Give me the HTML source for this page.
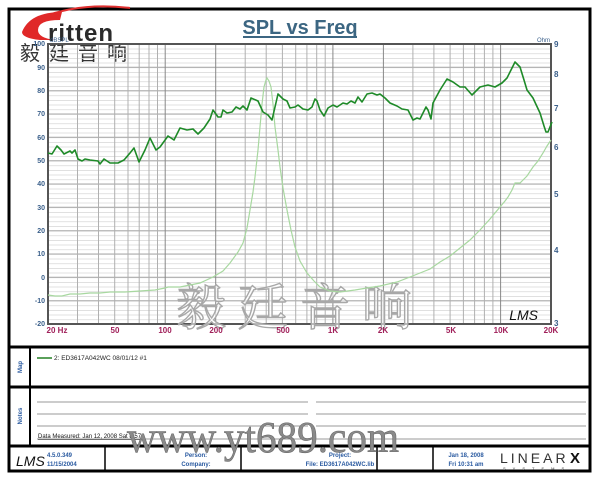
<!DOCTYPE html>
<html><head><meta charset="utf-8"><style>
html,body{margin:0;padding:0;background:#fff;}
svg{display:block;font-family:"Liberation Sans",sans-serif;}
</style></head><body>
<svg width="600" height="480" viewBox="0 0 600 480" xmlns="http://www.w3.org/2000/svg">
<defs>
<pattern id="hm" x="48" y="44" width="10" height="4.6667" patternUnits="userSpaceOnUse">
<line x1="0" y1="0.3" x2="10" y2="0.3" stroke="#d4d4d4" stroke-width="0.8"/>
</pattern>
</defs>
<rect x="0" y="0" width="600" height="480" fill="#fff"/>
<rect x="9" y="9" width="581" height="462" fill="none" stroke="#000" stroke-width="3"/>
<line x1="9" y1="347" x2="590" y2="347" stroke="#000" stroke-width="3"/>
<line x1="9" y1="387" x2="590" y2="387" stroke="#000" stroke-width="3"/>
<line x1="9" y1="446" x2="590" y2="446" stroke="#000" stroke-width="3"/>
<line x1="30" y1="347" x2="30" y2="446" stroke="#000" stroke-width="2"/>
<line x1="105" y1="446" x2="105" y2="471" stroke="#000" stroke-width="1.5"/>
<line x1="241" y1="446" x2="241" y2="471" stroke="#000" stroke-width="1.5"/>
<line x1="377" y1="446" x2="377" y2="471" stroke="#000" stroke-width="1.5"/>
<line x1="433" y1="446" x2="433" y2="471" stroke="#000" stroke-width="1.5"/>

<path d="M40 18 Q80 2 130 8" fill="none" stroke="#e03030" stroke-width="2"/>
<path d="M22 32 Q30 12 62 12 L60 20 Q38 20 38 30 Q38 38 55 40 L40 40 Q22 38 22 32Z" fill="#e02828"/>
<text x="48" y="41" font-size="24" font-weight="bold" fill="#2a2a2a" letter-spacing="1">ritten</text>
<text x="20" y="60" font-size="20" fill="#333" font-family="'Noto Sans CJK SC',sans-serif" letter-spacing="9">毅廷音响</text>

<text x="300" y="34" font-size="20" font-weight="bold" fill="#3c6682" text-anchor="middle">SPL vs Freq</text>
<line x1="243" y1="37" x2="357" y2="37" stroke="#3c6682" stroke-width="2"/>

<rect x="48" y="44" width="503" height="280" fill="url(#hm)"/>
<g stroke="#a8a8a8" stroke-width="1">
<line x1="48" y1="67.3" x2="551" y2="67.3"/><line x1="48" y1="90.7" x2="551" y2="90.7"/><line x1="48" y1="114" x2="551" y2="114"/><line x1="48" y1="137.3" x2="551" y2="137.3"/><line x1="48" y1="160.7" x2="551" y2="160.7"/><line x1="48" y1="184" x2="551" y2="184"/><line x1="48" y1="207.3" x2="551" y2="207.3"/><line x1="48" y1="230.7" x2="551" y2="230.7"/><line x1="48" y1="254" x2="551" y2="254"/><line x1="48" y1="277.3" x2="551" y2="277.3"/><line x1="48" y1="300.7" x2="551" y2="300.7"/>
</g>
<g stroke="#b0b0b0" stroke-width="1">
<line x1="77.5" y1="44" x2="77.5" y2="324"/><line x1="98.5" y1="44" x2="98.5" y2="324"/><line x1="114.7" y1="44" x2="114.7" y2="324"/><line x1="128" y1="44" x2="128" y2="324"/><line x1="139.2" y1="44" x2="139.2" y2="324"/><line x1="149" y1="44" x2="149" y2="324"/><line x1="157.5" y1="44" x2="157.5" y2="324"/>
<line x1="245.2" y1="44" x2="245.2" y2="324"/><line x1="266.2" y1="44" x2="266.2" y2="324"/><line x1="282.4" y1="44" x2="282.4" y2="324"/><line x1="295.7" y1="44" x2="295.7" y2="324"/><line x1="306.9" y1="44" x2="306.9" y2="324"/><line x1="316.7" y1="44" x2="316.7" y2="324"/><line x1="325.2" y1="44" x2="325.2" y2="324"/>
<line x1="412.9" y1="44" x2="412.9" y2="324"/><line x1="433.9" y1="44" x2="433.9" y2="324"/><line x1="450.1" y1="44" x2="450.1" y2="324"/><line x1="463.4" y1="44" x2="463.4" y2="324"/><line x1="474.6" y1="44" x2="474.6" y2="324"/><line x1="484.4" y1="44" x2="484.4" y2="324"/><line x1="492.9" y1="44" x2="492.9" y2="324"/>
</g>
<g stroke="#888" stroke-width="1">
<line x1="165.2" y1="44" x2="165.2" y2="324"/><line x1="215.7" y1="44" x2="215.7" y2="324"/><line x1="332.9" y1="44" x2="332.9" y2="324"/><line x1="383.4" y1="44" x2="383.4" y2="324"/><line x1="500.6" y1="44" x2="500.6" y2="324"/>
</g>
<rect x="48" y="44" width="503" height="280" fill="none" stroke="#555" stroke-width="2"/>

<text x="300" y="325" font-size="50" fill="#fff" fill-opacity="0.6" stroke="#a8a8a8" stroke-width="1.4" text-anchor="middle" letter-spacing="12" font-family="'Noto Serif CJK SC','Noto Sans CJK SC',serif">毅廷音响</text>
<text x="538" y="320" font-size="14" font-style="italic" fill="#111" text-anchor="end">LMS</text>

<polyline fill="none" stroke="#a8d8a0" stroke-width="1.2" points="48,295 55,296 62,296 70,294 80,294 90,293 100,293 110,292 125,292 140,291 155,290 165,288 168,287 180,287 200,283 213,277 223,271 230,263 238,252 243,243 247,228 250,210 253,192 255,177 258,150 260,127 262,104 264,87 266,80 267,78 269,81 271,87 273,104 275,127 278,150 280,167 283,188 287,210 291,230 295,247 300,261 307,273 314,281 320,287 330,291 340,292 355,290 367,288 380,286 397,282 410,277 420,273 430,269 440,262 450,256 460,248 470,240 480,230 490,219 500,207 505,201 508,197 512,190 515,183 520,183 527,176 533,167 538,161 543,153 547,146 551,140"/>

<polyline fill="none" stroke="#1e8a28" stroke-width="1.6" stroke-linejoin="round" points="48,153 52,154 57,146 61,150 64,154 70,151 72,153 75,150 78,159 82,161 85,159 90,160 98,161 100,164 104,159 110,163 118,163 124,160 130,153 134,148 139,162 145,150 150,138 156,150 160,147 168,136 174,140 180,128 187,130 193,129 198,134 204,128 210,119 213,110 218,117 221,117 223,110 227,113 232,112 236,107 240,109 243,106 247,110 251,98 258,101 263,112 268,115 272,120 278,94 283,99 287,101 290,108 295,107 298,105 303,109 308,110 312,107 315,99 317,101 320,110 324,116 328,108 333,105 337,107 343,103 347,104 351,101 355,103 358,97 362,102 367,94 372,93 377,95 380,94 385,98 390,103 397,106 402,109 408,110 413,120 417,118 420,119 426,107 428,110 431,119 433,103 440,90 447,79 453,82 460,87 465,87 472,95 480,87 488,85 495,87 502,83 507,78 511,70 515,62 520,67 524,80 527,90 533,98 540,113 544,126 546,132 548,132 552,122"/>

<g font-size="7" font-weight="bold" fill="#3a5f8a" text-anchor="end">
<text x="45" y="46">100</text><text x="45" y="70">90</text><text x="45" y="93">80</text><text x="45" y="116">70</text><text x="45" y="140">60</text><text x="45" y="163">50</text><text x="45" y="186">40</text><text x="45" y="210">30</text><text x="45" y="233">20</text><text x="45" y="256">10</text><text x="45" y="280">0</text><text x="45" y="303">-10</text><text x="45" y="326">-20</text>
</g>
<text x="50" y="42" font-size="6" fill="#3a5f8a">dBSPL</text>
<g font-size="8" font-weight="bold" fill="#3a5f8a">
<text x="554" y="47">9</text><text x="554" y="77">8</text><text x="554" y="111">7</text><text x="554" y="150">6</text><text x="554" y="197">5</text><text x="554" y="253">4</text><text x="554" y="326">3</text>
</g>
<text x="537" y="42" font-size="6" fill="#3a5f8a">Ohm</text>
<g font-size="8" font-weight="bold" fill="#a0205a" text-anchor="middle">
<text x="57" y="333">20  Hz</text><text x="115" y="333">50</text><text x="165" y="333">100</text><text x="216" y="333">200</text><text x="283" y="333">500</text><text x="333" y="333">1K</text><text x="383" y="333">2K</text><text x="451" y="333">5K</text><text x="501" y="333">10K</text><text x="551" y="333">20K</text>
</g>

<text x="22" y="367" font-size="6" font-weight="bold" fill="#2a5aa0" text-anchor="middle" transform="rotate(-90 22 367)">Map</text>
<line x1="37" y1="358" x2="52" y2="358" stroke="#5aa05a" stroke-width="2"/>
<text x="54" y="360" font-size="6.5" fill="#222">2: ED3617A042WC  08/01/12  #1</text>
<text x="22" y="416" font-size="6" font-weight="bold" fill="#2a5aa0" text-anchor="middle" transform="rotate(-90 22 416)">Notes</text>
<g stroke="#999" stroke-width="1">
<line x1="37" y1="402" x2="308" y2="402"/><line x1="316" y1="402" x2="586" y2="402"/>
<line x1="37" y1="414" x2="308" y2="414"/><line x1="316" y1="414" x2="586" y2="414"/>
<line x1="37" y1="426" x2="308" y2="426"/><line x1="316" y1="426" x2="586" y2="426"/>
<line x1="37" y1="439" x2="586" y2="439"/>
</g>
<text x="38" y="438" font-size="6" fill="#111" text-decoration="underline">Data Measured: Jan 12, 2008  Sat  8:57</text>
<text x="127" y="452" font-size="44" fill="#8a8a8a" stroke="#6a6a6a" stroke-width="0.6" textLength="272" lengthAdjust="spacingAndGlyphs" font-family="'Liberation Serif',serif">www.yt689.com</text>

<text x="16" y="466" font-size="14" font-style="italic" fill="#111">LMS</text>
<text x="47" y="457" font-size="6" font-weight="bold" fill="#2a5aa0">4.5.0.349</text>
<text x="47" y="466" font-size="6" font-weight="bold" fill="#2a5aa0">11/15/2004</text>
<text x="196" y="457" font-size="6" font-weight="bold" fill="#2a5aa0" text-anchor="middle">Person:</text>
<text x="196" y="466" font-size="6" font-weight="bold" fill="#2a5aa0" text-anchor="middle">Company:</text>
<text x="340" y="457" font-size="6" font-weight="bold" fill="#2a5aa0" text-anchor="middle">Project:</text>
<text x="340" y="466" font-size="6" font-weight="bold" fill="#2a5aa0" text-anchor="middle">File: ED3617A042WC.lib</text>
<text x="466" y="457" font-size="6" font-weight="bold" fill="#2a5aa0" text-anchor="middle">Jan 18, 2008</text>
<text x="466" y="466" font-size="6" font-weight="bold" fill="#2a5aa0" text-anchor="middle">Fri 10:31 am</text>
<text x="500" y="463" font-size="14" fill="#333" letter-spacing="3">LINEAR</text>
<text x="570" y="463" font-size="15" font-weight="bold" fill="#111">X</text>
<text x="503" y="470" font-size="4" fill="#333" letter-spacing="7">SYSTEMS</text>
</svg>
</body></html>
